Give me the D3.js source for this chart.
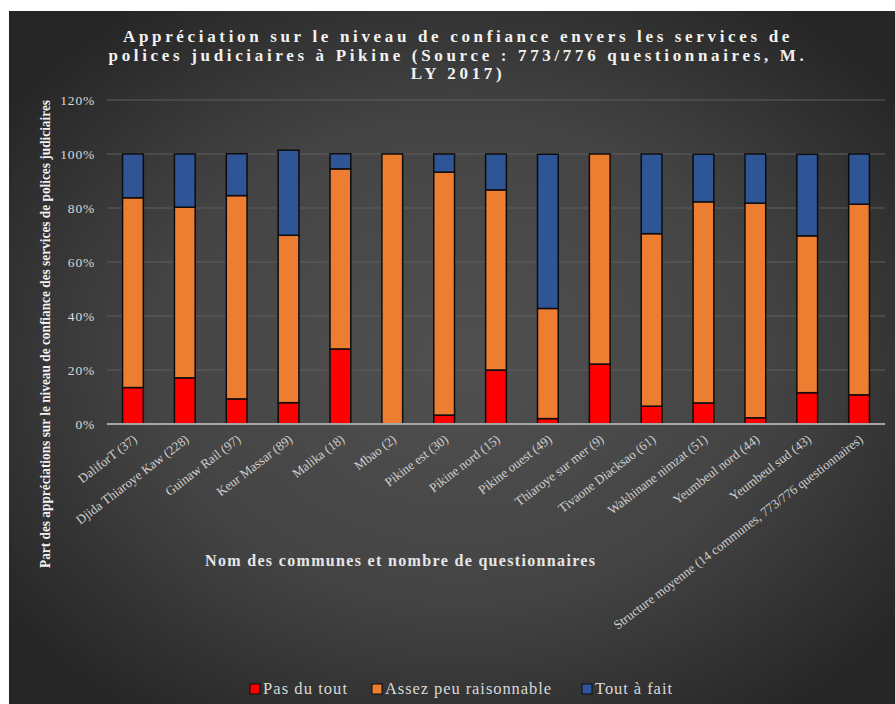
<!DOCTYPE html>
<html>
<head>
<meta charset="utf-8">
<script src="https://cdn.jsdelivr.net/npm/d3@7"></script>
<style>
  html, body { margin: 0; padding: 0; background: #ffffff; }
  svg { display: block; }
</style>
</head>
<body>
<svg id="chart" width="895" height="704"></svg>
<script>
const categories = [
  "DaliforT (37)", "Djida Thiaroye Kaw (228)", "Guinaw Rail (97)", "Keur Massar (89)",
  "Malika (18)", "Mbao (2)", "Pikine est (30)", "Pikine nord (15)", "Pikine ouest (49)",
  "Thiaroye sur mer (9)", "Tivaone Diacksao (61)", "Wakhinane nimzat (51)",
  "Yeumbeul nord (44)", "Yeumbeul sud (43)",
  "Structure moyenne (14 communes, 773/776 questionnaires)"
];
const pasDuTout = [13.5, 17.1, 9.3, 7.9, 27.8, 0, 3.3, 20.0, 2.0, 22.2, 6.6, 7.8, 2.3, 11.6, 10.8];
const assezPeu  = [70.3, 63.2, 75.3, 62.0, 66.7, 100, 90.0, 66.7, 40.8, 77.8, 63.9, 74.5, 79.5, 58.1, 70.6];
const toutAFait = [16.2, 19.7, 15.5, 31.5, 5.6, 0, 6.7, 13.3, 57.1, 0, 29.5, 17.6, 18.2, 30.2, 18.6];
const seriesNames = ["Pas du tout", "Assez peu raisonnable", "Tout à fait"];
const seriesColors = ["#ff0000", "#ed7d31", "#2f5597"];
const yTicks = [0, 20, 40, 60, 80, 100, 120];
const titleLines = [
  "Appréciation sur le niveau de confiance envers les services de",
  "polices judiciaires  à Pikine (Source : 773/776 questionnaires, M.",
  "LY 2017)"
];
const yTitle = "Part des appréciations sur le niveau de confiance des services de polices judiciaires";
const xTitle = "Nom des communes et nombre de questionnaires";

const svg = d3.select("#chart");
const serif = "'Liberation Serif', 'Times New Roman', serif";

// background
const defs = svg.append("defs");
const grad = defs.append("radialGradient").attr("id", "bg")
  .attr("cx", "0.5").attr("cy", "0.5").attr("r", "0.62");
grad.append("stop").attr("offset", "0").attr("stop-color", "#505050");
grad.append("stop").attr("offset", "0.55").attr("stop-color", "#444444");
grad.append("stop").attr("offset", "1").attr("stop-color", "#262626");
svg.append("rect").attr("x", 9).attr("y", 11).attr("width", 900).attr("height", 700)
  .attr("fill", "url(#bg)");

// scales
const x = d3.scaleBand().domain(categories).range([107, 885]).paddingInner(0.6).paddingOuter(0.3);
const y = d3.scaleLinear().domain([0, 120]).range([424, 100]);

// gridlines
svg.append("g").selectAll("line").data(yTicks.filter(t => t > 0)).join("line")
  .attr("x1", 107).attr("x2", 885)
  .attr("y1", d => y(d)).attr("y2", d => y(d))
  .attr("stroke", "#5e5e5e").attr("stroke-width", 1);

// y axis tick labels
const yAxis = d3.axisLeft(y).tickValues(yTicks).tickFormat(d => d + "%").tickSize(0).tickPadding(12);
const gy = svg.append("g").attr("transform", "translate(107,0)").call(yAxis);
gy.select(".domain").remove();
gy.attr("font-family", null);
gy.selectAll("text").style("font-family", serif).style("font-size", "13.5px")
  .style("letter-spacing", "0.8px")
  .attr("fill", "#d9d9d9").attr("dy", "0.35em");

// stacked data
const rows = categories.map((c, i) => ({ cat: c, s0: pasDuTout[i], s1: assezPeu[i], s2: toutAFait[i] }));
const stacked = d3.stack().keys(["s0", "s1", "s2"])(rows);

svg.append("g").selectAll("g").data(stacked).join("g")
  .attr("fill", (d, i) => seriesColors[i])
  .selectAll("rect").data(d => d.filter(p => p[1] - p[0] > 0)).join("rect")
  .attr("x", d => x(d.data.cat))
  .attr("width", x.bandwidth())
  .attr("y", d => y(d[1]))
  .attr("height", d => y(d[0]) - y(d[1]))
  .attr("stroke", "#0d0d0d").attr("stroke-width", 1.5);

// x axis
const xAxis = d3.axisBottom(x).tickSize(0).tickPadding(0);
const gx = svg.append("g").attr("transform", "translate(0,424)").call(xAxis);
gx.attr("font-family", null);
gx.select(".domain").attr("stroke", "#a6a6a6").attr("stroke-width", 2)
  .attr("d", "M107,0H885");
gx.selectAll(".tick text")
  .style("font-family", serif).style("font-size", "13px")
  .attr("fill", "#d0d0d0")
  .attr("text-anchor", "end")
  .attr("dy", 0).attr("y", 0)
  .attr("transform", "translate(5,17) rotate(-37.5)");

// title: equal letter spacing on all lines, line 1 stretched to 670px
const title = svg.append("text").attr("text-anchor", "middle")
  .style("font-family", serif).style("font-size", "17px").style("font-weight", "bold")
  .attr("fill", "#f2f2f2");
const spans = titleLines.map((t, i) =>
  title.append("tspan").attr("x", 458).attr("y", 42 + i * 18.5).text(t));
const natural0 = spans[0].node().getComputedTextLength();
const ls = (670 - natural0) / titleLines[0].length;
title.style("letter-spacing", ls + "px");

// y title
svg.append("text")
  .attr("transform", "translate(50,334) rotate(-90)")
  .attr("text-anchor", "middle")
  .style("font-family", serif).style("font-size", "15px").style("font-weight", "bold")
  .attr("fill", "#f2f2f2")
  .attr("textLength", 468).attr("lengthAdjust", "spacingAndGlyphs")
  .text(yTitle);

// x title
svg.append("text")
  .attr("x", 400).attr("y", 566)
  .attr("text-anchor", "middle")
  .style("font-family", serif).style("font-size", "16px").style("font-weight", "bold")
  .attr("fill", "#e6e6e6")
  .attr("textLength", 390).attr("lengthAdjust", "spacing")
  .text(xTitle);

// legend
const legendX = [250, 372, 582];
const legendLen = [84, 166, 77];
const lg = svg.append("g").selectAll("g").data(seriesNames).join("g")
  .attr("transform", (d, i) => `translate(${legendX[i]},684)`);
lg.append("rect").attr("width", 10).attr("height", 10).attr("y", 0)
  .attr("fill", (d, i) => seriesColors[i]).attr("stroke", "#0d0d0d").attr("stroke-width", 1);
lg.append("text").attr("x", 13).attr("y", 10)
  .style("font-family", serif).style("font-size", "16.5px")
  .attr("fill", "#d9d9d9")
  .attr("textLength", (d, i) => legendLen[i]).attr("lengthAdjust", "spacing")
  .text(d => d);
</script>
</body>
</html>
